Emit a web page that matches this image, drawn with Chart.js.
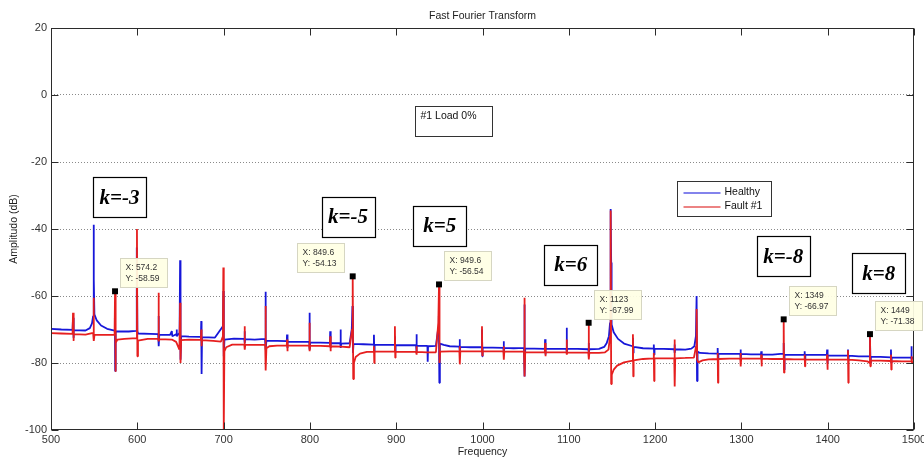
<!DOCTYPE html>
<html lang='en'>
<head>
    <meta charset='UTF-8'>
    <title>Fast Fourier Transform</title>
    <style>
        html, body { margin: 0; padding: 0; background: #fff; }
        #wrap { width: 924px; height: 459px; position: relative; }
    </style>
</head>
<body>
    <div id='wrap'><canvas id='fftChart'></canvas></div>

    <script src='https://cdn.jsdelivr.net/npm/chart.js'></script>
    <script>
        // values
        const healthyFreq = [
            500, 512, 525, 525.5, 526, 526.5, 540, 545, 547.5, 548.8, 549.3, 549.8, 550.3, 553, 558, 565,
            573.7, 574, 574.4, 574.9, 590, 598.5, 599.2, 599.6, 600.1, 601, 615, 624.2, 624.6, 625, 625.5,
            638, 640, 640.5, 645, 645.5, 646, 649, 649.6, 650.1, 650.8, 660, 673.7, 674.1, 674.5, 675, 690,
            699.2, 699.7, 700.2, 701, 712, 724, 724.3, 724.7, 725, 736, 748, 748.5, 749, 749.6, 762,
            773.2, 773.5, 773.9, 774.3, 786, 799.2, 799.5, 799.9, 800.4, 812, 823.2, 823.5, 823.9, 824.3,
            835.2, 835.5, 835.9, 836.3, 846, 848.5, 849.3, 849.9, 850.5, 862, 873.9, 874.2, 874.6, 875, 886,
            898.2, 898.5, 898.9, 899.3, 911, 923, 923.3, 923.7, 924.1, 936.2, 936.5, 936.9, 946, 948.5,
            949.4, 950, 950.6, 955, 962, 973.2, 973.5, 973.9, 974.3, 986, 999.1, 999.4, 999.8, 1000.2, 1012,
            1024.2, 1024.5, 1024.9, 1025.3, 1036, 1048.1, 1048.5, 1049, 1049.5, 1060, 1072.2, 1072.5, 1072.9,
            1073.3, 1085, 1097.2, 1097.5, 1097.9, 1098.3, 1110, 1122.7, 1123, 1123.4, 1123.8, 1135, 1141,
            1144, 1146.5, 1147.8, 1148.5, 1149.1, 1149.6, 1152, 1157, 1164, 1174, 1174.3, 1174.7, 1175.1,
            1186, 1198.2, 1198.5, 1198.9, 1199.3, 1210, 1222.2, 1222.5, 1222.9, 1223.3, 1235, 1242, 1245.5,
            1247.3, 1248.1, 1248.6, 1249.2, 1252, 1262, 1272.2, 1272.5, 1272.9, 1273.3, 1286, 1298.7, 1299,
            1299.4, 1299.8, 1311, 1322.7, 1323, 1323.4, 1323.8, 1336, 1348.5, 1349, 1349.5, 1350, 1361,
            1373, 1373.3, 1373.7, 1374.1, 1386, 1399, 1399.3, 1399.7, 1400.1, 1411, 1423.2, 1423.5, 1423.9,
            1424.3, 1436, 1448.5, 1449, 1449.5, 1450, 1461, 1473, 1473.3, 1473.7, 1474.1, 1486, 1496.7,
            1497, 1497.4, 1497.8, 1500
        ];
        const healthyAmp = [
            -69.8, -70.0, -70.1, -66.5, -72.5, -70.2, -70.3, -69.6, -68.2, -66.0, -38.7, -55, -65.5, -67.3, -68.8, -69.8,
            -70.3, -66.5, -82.4, -70.6, -70.6, -70.4, -69.5, -45.5, -70.5, -71.2, -71.3, -71.4, -66, -75, -71.5,
            -71.6, -70.5, -72, -71.4, -70, -72, -71, -49.3, -79, -72, -72.1, -72.2, -67.5, -83.3, -72.3, -72.4,
            -69, -58.5, -78, -73, -72.7, -72.8, -70.5, -74, -72.9, -73, -72.8, -58.7, -76, -73.3, -73.4,
            -73.5, -71.5, -75.5, -73.6, -73.7, -73.7, -65, -76, -73.9, -73.9, -74, -70.5, -75.5, -74.1,
            -74.1, -70, -75.5, -74.2, -74.1, -70, -63, -77, -74.3, -74.4, -74.5, -71.6, -76.5, -74.6, -74.6,
            -74.6, -72, -76.5, -74.7, -74.7, -74.7, -71.4, -77, -74.8, -74.9, -79.6, -75, -74.9, -70,
            -66, -85.9, -74.2, -74.6, -75, -75.1, -72.9, -76.5, -75.2, -75.3, -75.3, -70, -78, -75.4, -75.4,
            -75.5, -73.5, -77, -75.5, -75.6, -75.5, -62.5, -84, -75.7, -75.7, -75.8, -72.9, -77.5,
            -75.8, -75.8, -75.8, -69.5, -77, -75.8, -75.8, -75.9, -74, -77, -75.9, -75.8, -75.2,
            -74, -72, -68, -34, -50, -68.5, -70.8, -72.8, -74.2, -75, -72.5, -77, -75.2,
            -75.6, -75.7, -74.5, -77.5, -75.8, -75.8, -75.9, -74.5, -77, -75.9, -76, -75.7, -75,
            -72, -60, -85.4, -76.6, -77, -77.1, -77.2, -75.5, -79, -77.2, -77.3, -77.3, -76,
            -79, -77.3, -77.4, -77.4, -76.5, -79, -77.4, -77.5, -77.2, -74, -82, -77.5, -77.6,
            -77.6, -76.5, -79, -77.6, -77.6, -77.6, -76, -80, -77.7, -77.8, -77.8, -76, -79,
            -77.8, -78, -78, -72, -80, -78.2, -78.2, -78.3, -76, -80, -78.3, -78.4, -78.4,
            -75, -79, -78.4, -78.5
        ];
        const faultFreq = [
            500, 512, 525, 525.5, 526, 526.5, 540, 548.8, 549.3, 549.8, 550.4, 562, 573.7, 574.2, 574.6, 575.2,
            577, 585, 599.2, 599.6, 600.1, 600.8, 612, 624.2, 624.6, 625, 625.5, 640, 645, 648.8, 649.6, 650.1,
            650.8, 660, 673.7, 674.1, 674.5, 675, 688, 697, 699.2, 699.7, 700.2, 700.9, 703, 710, 724, 724.3,
            724.7, 725.1, 736, 748.2, 748.5, 749, 749.6, 753, 762, 773.2, 773.5, 773.9, 774.3, 786, 799.2,
            799.5, 799.9, 800.3, 812, 823.2, 823.5, 823.9, 824.3, 836, 846, 848.9, 849.6, 850.2, 851, 853, 858,
            866, 873.9, 874.2, 874.6, 875, 886, 898.2, 898.5, 898.9, 899.3, 911, 923, 923.3, 923.7, 924.1, 936,
            946, 948.8, 949.6, 950.2, 951, 962, 973.2, 973.5, 973.9, 974.3, 986, 999.1, 999.4, 999.8, 1000.2,
            1012, 1024.2, 1024.5, 1024.9, 1025.3, 1036, 1048.1, 1048.5, 1049, 1049.5, 1060, 1072.2, 1072.5,
            1072.9, 1073.3, 1085, 1097.2, 1097.5, 1097.9, 1098.3, 1110, 1122.6, 1123, 1123.4, 1123.8, 1135,
            1142, 1146, 1147.8, 1148.5, 1149.1, 1149.8, 1152, 1156, 1164, 1174, 1174.3, 1174.7, 1175.1, 1186,
            1198.2, 1198.5, 1198.9, 1199.3, 1210, 1222.2, 1222.5, 1222.9, 1223.3, 1235, 1245, 1247.5, 1248.1,
            1248.8, 1250, 1255, 1262, 1272.2, 1272.5, 1272.9, 1273.3, 1286, 1298.7, 1299, 1299.4, 1299.8, 1311,
            1322.7, 1323, 1323.4, 1323.8, 1336, 1348.6, 1349, 1349.4, 1349.9, 1361, 1373, 1373.3, 1373.7,
            1374.1, 1386, 1399, 1399.3, 1399.7, 1400.1, 1411, 1423.2, 1423.5, 1423.9, 1424.3, 1436, 1446,
            1448.6, 1449, 1449.4, 1450, 1461, 1473, 1473.3, 1473.7, 1474.1, 1486, 1497, 1497.3, 1497.7, 1500
        ];
        const faultAmp = [
            -71.1, -71.2, -71.3, -65, -73.4, -71.4, -71.5, -71, -60.5, -73.4, -71.6, -71.6, -71.6, -58.59, -82.6, -74,
            -73, -72.8, -72.6, -40, -78, -73.3, -72.8, -72.8, -59, -73.5, -72.9, -73, -73.7, -76, -62, -80,
            -73.2, -73, -73.1, -70, -75, -73.2, -73.4, -73.6, -72, -51.5, -100, -76.5, -75.3, -74.5, -74.5, -69,
            -76, -74.6, -74.6, -74.6, -63, -82.2, -75.6, -75, -74.8, -74.8, -73, -76.5, -74.8, -74.8, -74.8,
            -68, -76.5, -74.9, -74.9, -75, -72, -76.5, -75, -75.1, -75.3, -70, -54.13, -84.8, -80, -78.2, -77.2,
            -76.7, -76.6, -75, -80, -76.6, -76.6, -76.6, -69, -78.4, -76.6, -76.7, -76.7, -75, -77.5, -76.7, -76.8,
            -76.8, -68, -56.54, -80, -76.6, -76.5, -76.5, -75, -80.4, -76.5, -76.5, -76.5, -69, -77.8, -76.5,
            -76.5, -76.5, -75, -79, -76.5, -76.6, -76.6, -60.5, -84, -76.8, -76.8, -76.8, -74,
            -78, -76.8, -76.8, -76.8, -73, -77.5, -76.8, -76.9, -76.9, -67.99, -78.9, -77, -77,
            -76.8, -76, -72, -34.5, -86.3, -83.5, -82, -80.8, -79.8, -79.3, -71.4, -84, -79.2, -78.8,
            -78.6, -77, -85.4, -78.6, -78.6, -78.6, -73, -87, -78.6, -78.5, -78.4, -75, -63.9,
            -79, -79.8, -79.2, -78.9, -78.8, -77, -85.9, -78.8, -78.7, -78.6, -77, -81, -78.6, -78.7,
            -78.7, -77.5, -81, -78.7, -78.8, -78.8, -66.97, -82.9, -78.8, -78.9, -78.9, -77.5, -81,
            -78.9, -79, -79, -77.5, -82, -79, -79, -79, -76.2, -85.9, -79, -79.2, -79.5,
            -80, -71.38, -81, -79.3, -79.3, -79.4, -77.5, -82, -79.4, -79.5, -79.5, -78, -80, -79.6
        ];

        // data cursor points
        const tipFreq = [574.2, 849.6, 949.6, 1123, 1349, 1449];
        const tipAmp = [-58.59, -54.13, -56.54, -67.99, -66.97, -71.38];
        const tipSide = ['ne', 'nw', 'ne', 'ne', 'ne', 'ne'];

        // harmonic order labels and where they sit (data units, box centre)
        const kText = ['k=-3', 'k=-5', 'k=5', 'k=6', 'k=-8', 'k=8'];
        const kFreq = [579.4, 844.2, 950.4, 1102.3, 1348.6, 1459.1];
        const kAmp = [-30.5, -36.3, -39.0, -50.7, -48.1, -53.2];

        const xTickValues = [500, 600, 700, 800, 900, 1000, 1100, 1200, 1300, 1400, 1500];
        const xTickLabels = ['500', '600', '700', '800', '900', '1000', '1100', '1200', '1300', '1400', '1500'];
        const yTickValues = [20, 0, -20, -40, -60, -80, -100];
        const yTickLabels = ['20', '0', '-20', '-40', '-60', '-80', '-100'];

        const chartTitle = 'Fast Fourier Transform';
        const noteText = '#1 Load 0%';
        const sansFont = '"Liberation Sans", Arial, Helvetica, sans-serif';

        function toPoints(xs, ys) {
            return xs.map((v, i) => ({ x: v, y: ys[i] }));
        }

        const decor = {
            id: 'matlabDecor',
            afterDraw(chart) {
                const { ctx, chartArea: a, scales: { x, y } } = chart;
                const L = Math.round(a.left) + 0.5, R = Math.round(a.right) - 0.5;
                const T = Math.round(a.top) + 0.5, B = Math.round(a.bottom) - 0.5;
                ctx.save();

                // title
                ctx.fillStyle = '#222';
                ctx.font = '10.5px ' + sansFont;
                ctx.textAlign = 'center';
                ctx.textBaseline = 'middle';
                ctx.fillText(chartTitle, (a.left + a.right) / 2, a.top - 12);

                // axes box + inward ticks on all sides
                ctx.strokeStyle = '#2b2b2b';
                ctx.lineWidth = 1;
                ctx.strokeRect(L, T, R - L, B - T);
                ctx.beginPath();
                xTickValues.forEach(v => {
                    const px = Math.round(x.getPixelForValue(v)) + 0.5;
                    ctx.moveTo(px, B); ctx.lineTo(px, B - 7);
                    ctx.moveTo(px, T); ctx.lineTo(px, T + 7);
                });
                yTickValues.forEach(v => {
                    const py = Math.round(y.getPixelForValue(v)) + 0.5;
                    ctx.moveTo(L, py); ctx.lineTo(L + 7, py);
                    ctx.moveTo(R, py); ctx.lineTo(R - 7, py);
                });
                ctx.stroke();

                // "#1 Load 0%" text box
                const nx = Math.round(x.getPixelForValue(921.8)) + 0.5;
                const ny = Math.round(y.getPixelForValue(-3.4)) + 0.5;
                ctx.fillStyle = '#fff';
                ctx.fillRect(nx, ny, 77, 30);
                ctx.strokeStyle = '#333';
                ctx.strokeRect(nx, ny, 77, 30);
                ctx.fillStyle = '#111';
                ctx.font = '10.5px ' + sansFont;
                ctx.textAlign = 'left';
                ctx.fillText(noteText, nx + 5, ny + 10);

                // k= boxes
                ctx.font = 'italic bold 21px "Liberation Serif", "Times New Roman", serif';
                ctx.textAlign = 'center';
                kText.forEach((t, i) => {
                    const cx = x.getPixelForValue(kFreq[i]);
                    const cy = y.getPixelForValue(kAmp[i]);
                    const bx = Math.round(cx - 26.5) + 0.5, by = Math.round(cy - 20) + 0.5;
                    ctx.fillStyle = '#fff';
                    ctx.fillRect(bx, by, 53, 40);
                    ctx.strokeStyle = '#000';
                    ctx.lineWidth = 1.2;
                    ctx.strokeRect(bx, by, 53, 40);
                    ctx.fillStyle = '#000';
                    ctx.fillText(t, cx, cy + 1);
                });

                // data cursor boxes
                ctx.font = '8.5px ' + sansFont;
                ctx.textAlign = 'left';
                ctx.lineWidth = 1;
                tipFreq.forEach((f, i) => {
                    const mx = x.getPixelForValue(f);
                    const my = y.getPixelForValue(tipAmp[i]);
                    const l1 = 'X: ' + f;
                    const l2 = 'Y: ' + tipAmp[i];
                    const w = Math.ceil(Math.max(ctx.measureText(l1).width, ctx.measureText(l2).width)) + 12;
                    const h = 29;
                    const bx = Math.round(tipSide[i] === 'nw' ? mx - 9 - w : mx + 5) + 0.5;
                    const by = Math.round(my - 4 - h) + 0.5;
                    ctx.fillStyle = 'rgba(255,255,228,0.93)';
                    ctx.fillRect(bx, by, w, h);
                    ctx.strokeStyle = '#d6d6c2';
                    ctx.strokeRect(bx, by, w, h);
                    ctx.fillStyle = '#333';
                    ctx.fillText(l1, bx + 5, by + 9);
                    ctx.fillText(l2, bx + 5, by + 20);
                });

                // legend box
                const lx = Math.round(x.getPixelForValue(1225.4)) + 0.5;
                const ly = Math.round(y.getPixelForValue(-25.6)) + 0.5;
                ctx.fillStyle = '#fff';
                ctx.fillRect(lx, ly, 94, 35);
                ctx.strokeStyle = '#333';
                ctx.strokeRect(lx, ly, 94, 35);
                ctx.font = '10.5px ' + sansFont;
                chart.data.datasets.slice(0, 2).forEach((ds, i) => {
                    const ry = ly + 11 + i * 14;
                    ctx.strokeStyle = ds.legendColor;
                    ctx.lineWidth = 1.4;
                    ctx.beginPath();
                    ctx.moveTo(lx + 6, Math.round(ry));
                    ctx.lineTo(lx + 43, Math.round(ry));
                    ctx.stroke();
                    ctx.fillStyle = '#111';
                    ctx.fillText(ds.label, lx + 47, ry);
                });

                ctx.restore();
            }
        };

        new Chart(document.getElementById('fftChart'), {
            type: 'line',
            data: {
                datasets: [{
                    label: 'Healthy',
                    data: toPoints(healthyFreq, healthyAmp),
                    borderColor: '#1717d9',
                    legendColor: '#5a5ae6',
                    borderWidth: 1.8,
                    borderJoinStyle: 'bevel',
                    pointRadius: 0,
                    order: 2
                }, {
                    label: 'Fault #1',
                    data: toPoints(faultFreq, faultAmp),
                    borderColor: '#e61f1f',
                    legendColor: '#e65a5a',
                    borderWidth: 1.8,
                    borderJoinStyle: 'bevel',
                    pointRadius: 0,
                    order: 1
                }, {
                    label: 'cursor',
                    data: toPoints(tipFreq, tipAmp),
                    showLine: false,
                    pointStyle: 'rect',
                    pointRadius: 4.2,
                    pointBackgroundColor: '#000',
                    pointBorderWidth: 0,
                    order: 0
                }]
            },
            options: {
                responsive: true,
                maintainAspectRatio: false,
                animation: false,
                events: [],
                layout: { padding: { top: 28, right: 10, left: 0, bottom: 0 } },
                plugins: {
                    legend: { display: false },
                    tooltip: { enabled: false }
                },
                scales: {
                    x: {
                        type: 'linear',
                        min: 500,
                        max: 1500,
                        afterBuildTicks: s => { s.ticks = xTickValues.map(v => ({ value: v })); },
                        afterFit: s => { s.height = 29; s.paddingLeft = 0; s.paddingRight = 0; },
                        grid: { display: false, drawTicks: false },
                        border: { display: false },
                        ticks: {
                            autoSkip: false, maxRotation: 0, padding: 3, color: '#333',
                            font: { family: sansFont, size: 11 },
                            callback: (v, i) => xTickLabels[i]
                        },
                        title: {
                            display: true, text: 'Frequency', color: '#222',
                            font: { family: sansFont, size: 10.5 },
                            padding: { top: 0, bottom: 1 }
                        }
                    },
                    y: {
                        min: -100,
                        max: 20,
                        afterBuildTicks: s => { s.ticks = yTickValues.map(v => ({ value: v })); },
                        afterFit: s => { s.width = 51; s.paddingTop = 0; s.paddingBottom = 0; },
                        grid: {
                            drawTicks: false,
                            lineWidth: 1,
                            color: c => (c.tick && (c.tick.value === 20 || c.tick.value === -100)) ? 'rgba(0,0,0,0)' : '#8a8a8a'
                        },
                        border: { display: false, dash: [1, 2] },
                        ticks: {
                            autoSkip: false, padding: 4, color: '#333',
                            font: { family: sansFont, size: 11 },
                            callback: (v, i) => yTickLabels[i]
                        },
                        title: {
                            display: true, text: 'Amplitudo (dB)', color: '#222',
                            font: { family: sansFont, size: 10.5 },
                            padding: { top: 8, bottom: 0 }
                        }
                    }
                }
            },
            plugins: [decor]
        });
    </script>
</body>
</html>
